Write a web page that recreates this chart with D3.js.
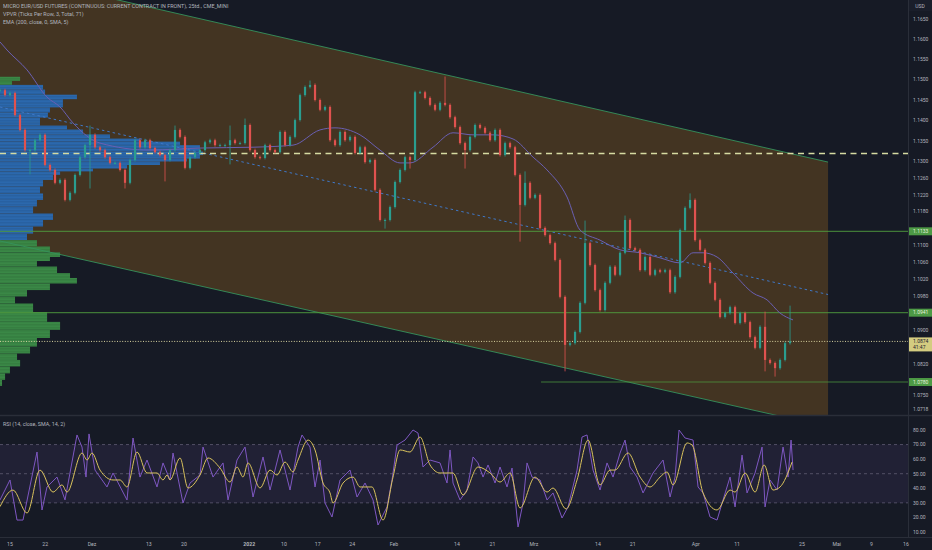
<!DOCTYPE html>
<html><head><meta charset="utf-8">
<script src="https://cdn.jsdelivr.net/npm/d3@7"></script>
<style>
html,body{margin:0;padding:0;background:#161a25;}
svg{display:block;font-family:"Roboto","Liberation Sans",sans-serif;}
</style></head><body>
<svg id="c" width="932" height="550"></svg>
<script>
// ---------------- DATA ----------------
const legendLines = ["MICRO EUR/USD FUTURES (CONTINUOUS: CURRENT CONTRACT IN FRONT), 25td., CME_MINI",
  "VPVR (Ticks Per Row, 3, Total, 71)", "EMA (200, close, 0, SMA, 5)"];
const rsiTitle = "RSI (14, close, SMA, 14, 2)";
// bar timing in weeks since 15 Nov 2021
const barStart = -0.2902, barStep = 0.1451;
const closes = [1.1474,1.1462,1.1467,1.1413,1.1377,1.1328,1.1328,1.1352,1.1365,1.1292,
 1.1280,1.1249,1.1256,1.1208,1.1225,1.1268,1.1311,1.1340,1.1365,1.1335,
 1.1328,1.1311,1.1297,1.1297,1.1280,1.1249,1.1304,1.1352,1.1335,1.1352,
 1.1333,1.1323,1.1316,1.1304,1.1328,1.1377,1.1360,1.1285,1.1311,1.1321,
 1.1328,1.1347,1.1352,1.1340,1.1340,1.1340,1.1352,1.1345,1.1345,1.1389,
 1.1328,1.1311,1.1309,1.1340,1.1328,1.1323,1.1372,1.1340,1.1360,1.1401,
 1.1462,1.1482,1.1487,1.1450,1.1426,1.1433,1.1352,1.1340,1.1372,1.1352,
 1.1360,1.1321,1.1335,1.1299,1.1304,1.1232,1.1160,1.1160,1.1191,1.1251,
 1.1280,1.1311,1.1304,1.1469,1.1469,1.1455,1.1438,1.1426,1.1443,1.1438,
 1.1408,1.1384,1.1345,1.1328,1.1360,1.1389,1.1382,1.1370,1.1352,1.1377,
 1.1316,1.1345,1.1335,1.1268,1.1196,1.1249,1.1213,1.1220,1.1141,1.1124,
 1.1105,1.1065,1.0978,1.0866,1.0870,1.0896,1.0964,1.1105,1.1053,1.0994,
 1.0947,1.1011,1.1049,1.1030,1.1082,1.1160,1.1093,1.1089,1.1041,1.1072,
 1.1030,1.1041,1.1037,1.1041,1.0989,1.1025,1.1136,1.1189,1.1208,1.1112,
 1.1089,1.1058,1.1011,1.0971,1.0931,1.0940,1.0954,1.0917,1.0940,1.0919,
 1.0884,1.0859,1.0908,1.0831,1.0824,1.0812,1.0831,1.0870,1.0874];
const spikeHigh = [[18,1.1384],[35,1.1384],[46,1.1384],[49,1.1401],[62,1.1494],[89,1.1504],[105,1.1273],[117,1.1155],[125,1.1167],[138,1.1220],[153,1.0940],[158,1.0954]];
const spikeLow = [[6,1.1273],[18,1.1239],[25,1.1239],[33,1.1256],[46,1.1297],[77,1.1143],[82,1.1287],[93,1.1287],[104,1.1112],[113,1.0808],[153,1.0808],[155,1.0796]];

const emaIdx = [0,1.4,5.4,9.4,12,14.6,20,30,40,50.6,58.6,64,67,72,76,80,82,86.6,90.6,94.6,98.6,102.6,106.6,109.4,113.4,116,120,124,128,132,136,138.6,140.6,143.4,146.6,150.6,153.4,156,158.6];
const emaVal = [1.1593,1.1573,1.1524,1.1457,1.1433,1.1394,1.1345,1.1328,1.1333,1.1335,1.1340,1.1377,1.1382,1.1365,1.1328,1.1297,1.1297,1.1335,1.1370,1.1365,1.1365,1.1355,1.1311,1.1280,1.1215,1.1136,1.1112,1.1089,1.1082,1.1070,1.1058,1.1082,1.1082,1.1072,1.1034,1.0987,1.0971,1.0940,1.0924];

const profPrice = [1.1502,1.1492,1.1482,1.1469,1.1457,1.1447,1.1438,1.1426,1.1413,1.1401,1.1391,1.1384,1.1372,1.1360,1.1352,1.1345,1.1335,1.1328,1.1321,1.1311,1.1304,1.1297,1.1287,1.1280,1.1273,1.1263,1.1249,1.1232,1.1215,1.1201,1.1184,1.1167,1.1153,1.1136,1.1119,1.1105,1.1089,1.1077,1.1067,1.1058,1.1041,1.1027,1.1018,1.1001,1.0987,1.0971,1.0954,1.0931,1.0908,1.0894,1.0870,1.0854,1.0838,1.0824,1.0808,1.0792,1.0778];
const profVol = [9.9,5.9,21.2,22.2,37.9,31.0,31.0,24.6,23.6,19.7,19.7,33.0,40.9,54.2,69.0,88.7,98.5,98.5,100,98.5,92.1,78.8,62.6,45.8,29.6,26.1,21.2,19.7,21.2,18.2,16.3,26.1,21.2,16.3,13.3,18.2,24.6,29.6,24.6,18.2,28.1,34.5,37.9,24.6,13.3,7.4,16.3,23.2,29.6,24.6,18.2,14.8,8.4,9.9,4.9,2.5,1.0];
const valueArea = [1.1110, 1.1485];
const pocPrice = 1.1320;

const channelTop = [[0,1.1765],[165.6,1.1299]];
const channelBottom = [[0,1.1110],[165.6,1.0677]];

const levelPrices = [1.1133, 1.0941, 1.0780];
const levelStart = [0, 0, 108.2];
const lastPrice = 1.0874, countdown = "41:47";

const priceTicks = [1.1650,1.1600,1.1550,1.1500,1.1450,1.1400,1.1350,1.1300,1.1260,1.1220,1.1180,1.1100,1.1060,1.1020,1.0980,1.0900,1.0820,1.0750,1.0718];

const rsiIdx = [0,2,3.4,4.6,7.4,8.4,9.4,11.4,13,15.4,16.4,17.2,17.8,19,21.4,22.6,25.4,26.6,28,29.4,31.4,32.6,34,34.6,36.6,38,40,40.6,42.6,44.6,45.6,47.4,49,50.6,52.6,54,56,58,59.6,60.4,62,63,64,65,66.4,68,70,71.4,73,74.6,75.6,77.4,78.4,79.4,81,82.6,83.6,84.6,86,88,89.4,90,90.6,92,93.4,94.6,95.6,96.6,97.6,99,100,101.4,102.4,103.6,104.6,105.4,106.4,108,109.4,110.6,112.4,113.6,115.4,116.4,117.4,118.6,120,121.4,122.6,124,125,126,127.4,128.6,130.6,132.6,134,135,135.8,137,138.6,139.6,140.6,142,143.4,144.6,146,147,148.4,149.4,151,152.4,153,154,155.4,156.6,157.6,158.2,158.6];
const rsiVal = [32.0,45.7,18.2,18.2,64.9,25.1,40.9,47.7,32.0,76.6,68.3,47.7,77.3,52.5,40.9,50.5,32.0,74.5,47.7,59.4,40.9,57.4,45.7,64.2,29.9,43.6,49.1,68.3,47.7,57.4,32.0,59.4,68.3,34.0,61.5,38.8,66.3,38.8,68.3,76.6,68.3,40.9,59.4,29.9,20.3,45.7,52.5,34.0,43.6,32.0,14.8,27.2,45.7,69.7,73.1,80.0,77.9,54.6,59.4,57.4,43.6,66.3,43.6,32.0,38.8,61.5,57.4,47.7,56.0,43.6,54.6,40.9,53.9,13.4,29.9,57.4,47.7,45.7,32.0,36.8,19.6,27.2,52.5,75.2,76.6,52.5,38.8,57.4,47.7,64.2,73.1,54.6,47.7,36.8,50.5,59.4,34.0,47.7,80.0,74.5,73.1,40.9,36.8,20.3,18.2,32.0,47.7,27.2,62.8,36.8,50.5,68.3,27.2,45.7,38.8,68.3,47.7,73.1,52.5];
const smaIdx = [0,2.6,5.4,8,10.6,12.4,13.4,16.4,17.4,18.4,20,22.6,24,25.4,27.4,29.4,31.4,32.6,33.4,34,36,37.6,40,41.6,44,46,47.4,48.6,49.6,52,54,55.4,57,58.6,59.6,61.6,63,64.6,66,66.6,68.6,70.6,72,74.4,76.6,78.6,80,82,84,86,88,90.6,92.6,95.6,98,100,102,104,107,109.4,110.6,113.2,115.4,117.6,120,122,123,125.6,128,130,132,133.4,134.6,137.4,138.4,140.6,143.4,146,147,149,151,152.8,154.6,156,158.4];
const smaVal = [27.4,38.8,23.0,52.5,37.4,42.3,37.4,64.2,59.4,64.2,52.5,45.7,45.7,40.9,64.9,50.5,50.5,45.7,49.1,45.7,60.8,40.2,49.1,60.8,53.9,44.3,54.6,47.7,57.4,40.2,52.5,49.1,58.0,51.2,59.4,73.1,66.3,43.6,36.8,29.9,43.6,47.7,40.9,40.9,18.2,47.7,66.3,64.9,75.2,56.0,50.5,50.5,35.4,54.6,50.5,44.3,50.5,26.5,47.7,37.4,40.2,25.8,45.7,73.1,42.3,52.5,52.5,64.2,47.7,40.9,47.7,51.2,42.3,71.1,69.7,36.8,25.1,38.8,37.4,50.5,37.4,56.0,38.8,40.9,58.0];
const rsiTicks = [80,70,60,50,40,30,20,10];
const rsiBands = [70,50,30];

const dateLabels = ["15","22","Dez","13","20","2022","10","17","24","Feb","14","21","Mrz","14","21","Apr","11","25","Mai","9","16"];
const dateWeeks  = [0,1.02,2.38,4.03,5.05,6.94,7.95,8.93,9.93,11.14,12.97,14.0,15.2,17.06,18.07,19.9,21.1,22.98,23.99,25,26];

// ---------------- LAYOUT ----------------
const W=932, H=550, plotR=908, mainB=415, rsiB=537;
const svg = d3.select('#c');
const bg = '#161a25', grid='#2a2e39', txt='#b2b5be';
svg.append('rect').attr('width',W).attr('height',H).attr('fill',bg);

const x = d3.scaleLinear().domain([0,26]).range([10,906]);
const xi = i => x(barStart + i*barStep);
const y = d3.scaleLog().domain([1.0718,1.1650]).range([409,19]);
const yr = d3.scaleLinear().domain([10,80]).range([532,430]);
const xv = d3.scaleLinear().domain([0,100]).range([0,203]);

const defs = svg.append('defs');
defs.append('clipPath').attr('id','cm').append('rect').attr('x',0).attr('y',0).attr('width',plotR).attr('height',mainB);
defs.append('clipPath').attr('id','cr').append('rect').attr('x',0).attr('y',mainB+1).attr('width',plotR).attr('height',rsiB-mainB-1);
const pat = defs.append('pattern').attr('id','stripe').attr('width',4).attr('height',1.5).attr('patternUnits','userSpaceOnUse');
pat.append('rect').attr('width',4).attr('height',0.4).attr('fill','rgba(0,0,0,0.18)');

const gm = svg.append('g').attr('clip-path','url(#cm)');

// channel
const cPts = [[xi(channelTop[0][0]),y(channelTop[0][1])],[xi(channelTop[1][0]),y(channelTop[1][1])],
              [xi(channelBottom[1][0]),y(channelBottom[1][1])],[xi(channelBottom[0][0]),y(channelBottom[0][1])]];
gm.append('polygon').attr('points',cPts.map(p=>p.join(',')).join(' ')).attr('fill','#433422');

// volume profile
const rowsY = profPrice.map(p=>y(p));
const prof = gm.append('g');
profPrice.forEach((p,k)=>{
  const yc = rowsY[k];
  const up = k>0 ? (rowsY[k-1]+yc)/2 : yc-(rowsY[1]-rowsY[0])/2;
  const dn = k<profPrice.length-1 ? (rowsY[k+1]+yc)/2 : yc+(yc-rowsY[k-1])/2;
  const inVA = p>=valueArea[0] && p<=valueArea[1];
  prof.append('rect').attr('x',0).attr('y',up).attr('width',xv(profVol[k])).attr('height',dn-up)
    .attr('fill', inVA ? '#2c6ab0' : '#3b8a47');
  prof.append('rect').attr('x',0).attr('y',up).attr('width',xv(profVol[k])).attr('height',dn-up)
    .attr('fill','url(#stripe)');
});

// channel border lines and midline
const chLine = (a,b)=>gm.append('line').attr('x1',xi(a[0])).attr('y1',y(a[1])).attr('x2',xi(b[0])).attr('y2',y(b[1]));
chLine(channelTop[0],channelTop[1]).attr('stroke','#36925c').attr('stroke-width',0.9);
chLine(channelBottom[0],channelBottom[1]).attr('stroke','#36925c').attr('stroke-width',0.9);
gm.append('line').attr('x1',cPts[0][0]).attr('y1',(cPts[0][1]+cPts[3][1])/2)
  .attr('x2',cPts[1][0]).attr('y2',(cPts[1][1]+cPts[2][1])/2)
  .attr('stroke','#3f78c8').attr('stroke-width',1).attr('stroke-dasharray','2.5,3');

// horizontal levels
levelPrices.forEach((p,k)=>{
  gm.append('line').attr('x1',xi(levelStart[k])).attr('x2',plotR).attr('y1',y(p)).attr('y2',y(p))
    .attr('stroke','#4f9a3e').attr('stroke-opacity',0.75).attr('stroke-width',1.2);
});
// POC
gm.append('line').attr('x1',0).attr('x2',plotR).attr('y1',y(pocPrice)).attr('y2',y(pocPrice))
  .attr('stroke','#d6dba2').attr('stroke-width',1.5).attr('stroke-dasharray','6,4.5');
// last price dotted
gm.append('line').attr('x1',0).attr('x2',plotR).attr('y1',y(lastPrice)).attr('y2',y(lastPrice))
  .attr('stroke','#d8d3a0').attr('stroke-width',1).attr('stroke-dasharray','1,1.6');

// EMA
const ema = emaIdx.map((d,k)=>[d,emaVal[k]]);
gm.append('path').datum(ema).attr('fill','none').attr('stroke','#6a5fb2').attr('stroke-width',1)
  .attr('d',d3.line().x(d=>xi(d[0])).y(d=>y(d[1])).curve(d3.curveMonotoneX));

// candles
const hiMap = new Map(spikeHigh), loMap = new Map(spikeLow);
const bars = closes.map((c,i)=>{
  const o = i ? closes[i-1] : c;
  let hi = Math.max(o,c), lo = Math.min(o,c);
  if (hiMap.has(i)) hi = Math.max(hi, hiMap.get(i));
  if (loMap.has(i)) lo = Math.min(lo, loMap.get(i));
  return {i,o,c,hi,lo};
});
const upC='#2a9d8f', dnC='#e0524f';
const cg = gm.append('g');
cg.selectAll('line').data(bars).join('line')
  .attr('x1',d=>xi(d.i)).attr('x2',d=>xi(d.i)).attr('y1',d=>y(d.hi)-1.5).attr('y2',d=>y(d.lo)+1.5)
  .attr('stroke',d=>d.c>=d.o?upC:dnC).attr('stroke-width',0.8);
cg.selectAll('rect').data(bars).join('rect')
  .attr('x',d=>xi(d.i)-1.1).attr('width',2.2)
  .attr('y',d=>y(Math.max(d.o,d.c)))
  .attr('height',d=>Math.max(1,y(Math.min(d.o,d.c))-y(Math.max(d.o,d.c))))
  .attr('fill',d=>d.c>=d.o?upC:dnC);

// legend
legendLines.forEach((t,k)=>svg.append('text').attr('x',3).attr('y',8+k*7.8).text(t)
  .attr('fill',txt).attr('font-size',5.4));

// ---------------- RSI ----------------
const gr = svg.append('g').attr('clip-path','url(#cr)');
gr.append('rect').attr('x',0).attr('width',plotR).attr('y',yr(70)).attr('height',yr(30)-yr(70))
  .attr('fill','rgba(126,87,194,0.11)');
rsiBands.forEach(v=>gr.append('line').attr('x1',0).attr('x2',plotR).attr('y1',yr(v)).attr('y2',yr(v))
  .attr('stroke','#5f5c72').attr('stroke-width',0.8).attr('stroke-dasharray','3,3'));
const rsi = rsiIdx.map((d,k)=>[d,rsiVal[k]]);
gr.append('path').datum(rsi).attr('fill','none').attr('stroke','#7e57c2').attr('stroke-width',1)
  .attr('d',d3.line().x(d=>xi(d[0])).y(d=>yr(d[1])));
const sma = smaIdx.map((d,k)=>[d,smaVal[k]]);
gr.append('path').datum(sma).attr('fill','none').attr('stroke','#d9c25c').attr('stroke-width',1)
  .attr('d',d3.line().x(d=>xi(d[0])).y(d=>yr(d[1])).curve(d3.curveMonotoneX));
svg.append('text').attr('x',3).attr('y',426).text(rsiTitle).attr('fill',txt).attr('font-size',5.4);

// ---------------- AXES ----------------
svg.append('line').attr('x1',plotR+0.5).attr('x2',plotR+0.5).attr('y1',0).attr('y2',rsiB).attr('stroke',grid);
svg.append('line').attr('x1',0).attr('x2',W).attr('y1',mainB+0.5).attr('y2',mainB+0.5).attr('stroke',grid).attr('stroke-width',1.5);
svg.append('line').attr('x1',0).attr('x2',W).attr('y1',rsiB+0.5).attr('y2',rsiB+0.5).attr('stroke',grid);

svg.append('rect').attr('x',plotR+1).attr('y',0).attr('width',W-plotR-1).attr('height',11).attr('fill','#1a1e2a');
svg.append('text').attr('x',(plotR+W)/2).attr('y',7.5).attr('text-anchor','middle').text('USD')
  .attr('fill',txt).attr('font-size',5);

const ya = svg.append('g');
priceTicks.forEach(p=>ya.append('text').attr('x',913).attr('y',y(p)+1.8).text(p.toFixed(4))
  .attr('fill',txt).attr('font-size',5));

levelPrices.forEach(p=>{
  ya.append('rect').attr('x',plotR+1).attr('y',y(p)-4).attr('width',W-plotR-1).attr('height',8).attr('fill','#4d9a45');
  ya.append('text').attr('x',913).attr('y',y(p)+1.8).text(p.toFixed(4)).attr('fill','#e6f2dc').attr('font-size',5);
});
ya.append('rect').attr('x',plotR+1).attr('y',y(lastPrice)-4).attr('width',W-plotR-1).attr('height',14).attr('fill','#d4cc80');
ya.append('text').attr('x',913).attr('y',y(lastPrice)+1.8).text(lastPrice.toFixed(4)).attr('fill','#1e2230').attr('font-size',5);
ya.append('text').attr('x',913).attr('y',y(lastPrice)+8).text(countdown).attr('fill','#1e2230').attr('font-size',5);

rsiTicks.forEach(v=>ya.append('text').attr('x',913).attr('y',yr(v)+1.8).text(v.toFixed(2))
  .attr('fill',txt).attr('font-size',5));

const xa = svg.append('g');
dateLabels.forEach((t,k)=>xa.append('text').attr('x',x(dateWeeks[k])).attr('y',545.5).attr('text-anchor','middle')
  .text(t).attr('fill',txt).attr('font-size',5.2).attr('font-weight',t==='2022'?700:400));
</script>
</body></html>
